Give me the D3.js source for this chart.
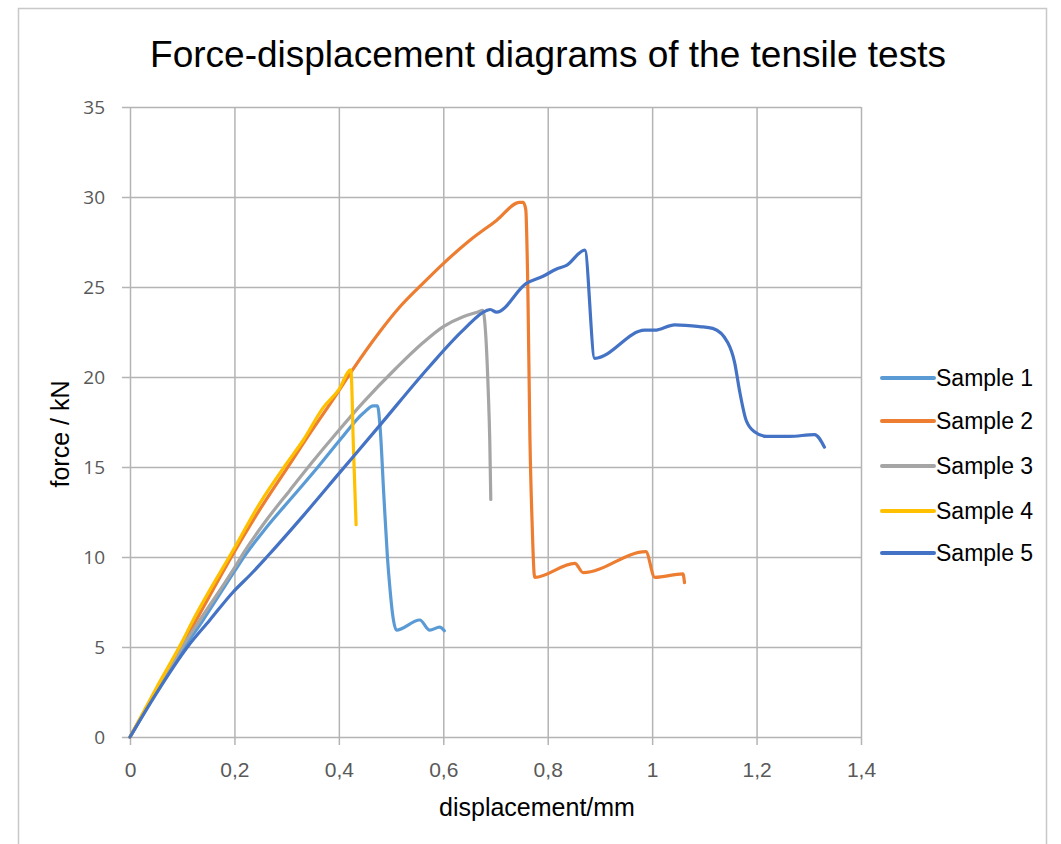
<!DOCTYPE html>
<html>
<head>
<meta charset="utf-8">
<script src="https://cdn.jsdelivr.net/npm/d3@7"></script>
<style>
  html, body { margin: 0; padding: 0; background: #fff; }
  svg { display: block; }
</style>
</head>
<body>
<svg id="chart" width="1061" height="844"></svg>
<script>
// ---- data ----
const seriesNames = ["Sample 1", "Sample 2", "Sample 3", "Sample 4", "Sample 5"];
const seriesColors = ["#5B9BD5", "#ED7D31", "#A5A5A5", "#FFC000", "#4472C4"];

const s1x = [0, 0.05, 0.10, 0.14, 0.20, 0.223, 0.26, 0.313, 0.36, 0.402, 0.447, 0.466, 0.474, 0.479, 0.486, 0.493, 0.498, 0.503, 0.510, 0.555, 0.574, 0.593, 0.602];
const s1y = [0, 2.5, 4.8, 6.5, 9.2, 10.2, 11.6, 13.4, 15.0, 16.5, 18.0, 18.4, 18.4, 17.2, 13.5, 10.0, 8.2, 6.8, 5.94, 6.5, 5.94, 6.1, 5.9];

const s2x = [0, 0.05, 0.10, 0.125, 0.20, 0.25, 0.30, 0.35, 0.39, 0.424, 0.478, 0.517, 0.561, 0.600, 0.651, 0.702, 0.746, 0.753, 0.758, 0.762, 0.766, 0.770, 0.775, 0.852, 0.868, 0.988, 1.005, 1.059, 1.062];
const s2y = [0, 2.6, 5.1, 6.4, 10.3, 12.7, 14.9, 17.1, 18.8, 20.3, 22.5, 23.9, 25.2, 26.3, 27.6, 28.7, 29.7, 29.7, 29.3, 24.8, 16.5, 12.0, 8.87, 9.65, 9.13, 10.3, 8.87, 9.06, 8.57];

const s3x = [0, 0.05, 0.10, 0.134, 0.20, 0.217, 0.26, 0.306, 0.35, 0.396, 0.447, 0.510, 0.561, 0.600, 0.638, 0.665, 0.676, 0.679, 0.686, 0.689, 0.691];
const s3y = [0, 2.5, 5.0, 6.5, 9.4, 10.2, 12.0, 13.7, 15.3, 16.9, 18.6, 20.5, 21.9, 22.8, 23.35, 23.6, 23.7, 23.2, 19.3, 16.5, 13.2];

const s4x = [0, 0.05, 0.10, 0.121, 0.198, 0.249, 0.300, 0.332, 0.37, 0.40, 0.423, 0.428, 0.433];
const s4y = [0, 2.7, 5.3, 6.5, 10.4, 13.0, 15.2, 16.5, 18.3, 19.3, 20.4, 16.0, 11.8];

const s5x = [0, 0.05, 0.11, 0.153, 0.198, 0.23, 0.262, 0.332, 0.402, 0.478, 0.574, 0.638, 0.683, 0.690, 0.702, 0.759, 0.791, 0.817, 0.836, 0.871, 0.890, 0.986, 1.005, 1.043, 1.091, 1.116, 1.145, 1.158, 1.167, 1.180, 1.196, 1.219, 1.263, 1.311, 1.330];
const s5y = [0, 2.4, 5.0, 6.5, 8.07, 9.0, 10.0, 12.3, 14.7, 17.3, 20.6, 22.6, 23.7, 23.75, 23.6, 25.2, 25.6, 26.0, 26.2, 27.05, 21.04, 22.6, 22.6, 22.9, 22.8, 22.7, 21.9, 20.8, 19.3, 17.6, 16.96, 16.7, 16.7, 16.8, 16.1];

const xTicks = [0, 0.2, 0.4, 0.6, 0.8, 1, 1.2, 1.4];
const xTickLabels = ["0", "0,2", "0,4", "0,6", "0,8", "1", "1,2", "1,4"];
const yTicks = [0, 5, 10, 15, 20, 25, 30, 35];
const yTickLabels = ["0", "5", "10", "15", "20", "25", "30", "35"];

const titleText = "Force-displacement diagrams of the tensile tests";
const xTitle = "displacement/mm";
const yTitle = "force / kN";

// ---- build ----
const seriesX = [s1x, s2x, s3x, s4x, s5x];
const seriesY = [s1y, s2y, s3y, s4y, s5y];
const series = seriesNames.map((name, i) => ({
  name, color: seriesColors[i],
  points: seriesX[i].map((x, j) => ({ x, y: seriesY[i][j] }))
}));

const svg = d3.select("#chart");
const W = 1061, H = 844;
const plot = { left: 130, right: 861, top: 107, bottom: 737 };

svg.append("rect").attr("width", W).attr("height", H).attr("fill", "#fff");
// outer chart frame
svg.append("rect")
  .attr("x", 18.5).attr("y", 8.5).attr("width", 1028).attr("height", 900)
  .attr("fill", "none").attr("stroke", "#c8c8c8").attr("stroke-width", 1.5);

const x = d3.scaleLinear().domain([0, 1.4]).range([plot.left, plot.right]);
const y = d3.scaleLinear().domain([0, 35]).range([plot.bottom, plot.top]);

const gridColor = "#b4b4b4";

// x axis with gridlines
const xAxis = d3.axisBottom(x).tickValues(xTicks)
  .tickSize(-(plot.bottom - plot.top))
  .tickFormat((d, i) => xTickLabels[i]);
const gx = svg.append("g").attr("transform", `translate(0,${plot.bottom})`).call(xAxis);
gx.select(".domain").remove();
gx.selectAll(".tick line").attr("stroke", gridColor).attr("stroke-width", 1.5).attr("y2", -(plot.bottom - plot.top)).attr("y1", 8);
gx.selectAll(".tick text")
  .attr("y", 25).attr("dy", "0.71em")
  .attr("font-family", "Liberation Sans, Arial, sans-serif").attr("font-size", 21)
  .attr("fill", "#595959");

// y axis with gridlines
const yAxis = d3.axisLeft(y).tickValues(yTicks)
  .tickSize(-(plot.right - plot.left))
  .tickFormat((d, i) => yTickLabels[i]);
const gy = svg.append("g").attr("transform", `translate(${plot.left},0)`).call(yAxis);
gy.select(".domain").remove();
gy.selectAll(".tick line").attr("stroke", gridColor).attr("stroke-width", 1.5).attr("x1", -8).attr("x2", plot.right - plot.left);
gy.selectAll(".tick text")
  .attr("x", -25).attr("dy", "0.36em")
  .attr("font-family", "Open Sans, sans-serif").attr("font-size", 19)
  .attr("fill", "#595959");

// lines
const line = d3.line().x(d => x(d.x)).y(d => y(d.y)).curve(d3.curveMonotoneX);
svg.append("g").selectAll("path").data(series).join("path")
  .attr("d", d => line(d.points))
  .attr("fill", "none")
  .attr("stroke", d => d.color)
  .attr("stroke-width", 3.2)
  .attr("stroke-linejoin", "round")
  .attr("stroke-linecap", "round");

// title
svg.append("text")
  .attr("x", 548).attr("y", 67)
  .attr("text-anchor", "middle")
  .attr("font-family", "Liberation Sans, Arial, sans-serif")
  .attr("font-size", 37)
  .attr("fill", "#000")
  .text(titleText);

// axis titles
svg.append("text")
  .attr("x", 537).attr("y", 816)
  .attr("text-anchor", "middle")
  .attr("font-family", "Liberation Sans, Arial, sans-serif")
  .attr("font-size", 25)
  .attr("fill", "#000")
  .text(xTitle);

svg.append("text")
  .attr("transform", "translate(69,434) rotate(-90)")
  .attr("text-anchor", "middle")
  .attr("font-family", "Liberation Sans, Arial, sans-serif")
  .attr("font-size", 25)
  .attr("fill", "#000")
  .text(yTitle);

// legend
const legendY = [378, 421, 466, 511, 553];
const lg = svg.append("g").selectAll("g").data(series).join("g")
  .attr("transform", (d, i) => `translate(882,${legendY[i]})`);
lg.append("line").attr("x1", 0).attr("x2", 52).attr("y1", 0).attr("y2", 0)
  .attr("stroke", d => d.color).attr("stroke-width", 4).attr("stroke-linecap", "round");
lg.append("text").attr("x", 54).attr("dy", "0.35em")
  .attr("font-family", "Liberation Sans, Arial, sans-serif")
  .attr("font-size", 23)
  .attr("fill", "#000")
  .text(d => d.name);
</script>
</body>
</html>
